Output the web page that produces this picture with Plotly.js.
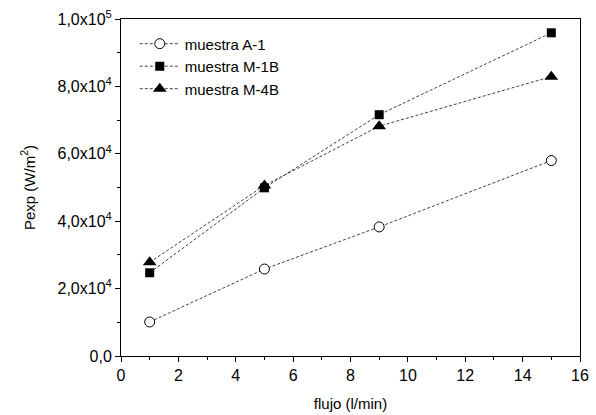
<!DOCTYPE html>
<html><head><meta charset="utf-8">
<script src="https://cdn.plot.ly/plotly-3.0.1.min.js"></script>
<style>body{margin:0;padding:0;background:#fff}#chart{width:596px;height:415px}</style>
</head><body><div id="chart"></div>
<script>
const flujo = [1, 5, 9, 15];
const seriesNames = ["muestra A-1", "muestra M-1B", "muestra M-4B"];
const valuesA1 = [10100, 25800, 38300, 58000];
const valuesM1B = [24700, 49900, 71600, 95900];
const valuesM4B = [27800, 50600, 68200, 82900];
const xTickVals = [0, 2, 4, 6, 8, 10, 12, 14, 16];
const yTickVals = [0, 20000, 40000, 60000, 80000, 100000];
const yTickText = ["0,0", "2,0x10<sup>4</sup>", "4,0x10<sup>4</sup>", "6,0x10<sup>4</sup>", "8,0x10<sup>4</sup>", "1,0x10<sup>5</sup>"];

const lineStyle = {color: '#444', width: 1, dash: '3px,2px'};
const traces = [
  {x: flujo, y: valuesA1, name: seriesNames[0], mode: 'lines+markers', line: lineStyle,
   marker: {symbol: 'circle', size: 10, color: '#fff', line: {color: '#000', width: 1}}},
  {x: flujo, y: valuesM1B, name: seriesNames[1], mode: 'lines+markers', line: lineStyle,
   marker: {symbol: 'square', size: 9, color: '#000', line: {color: '#000', width: 0}}},
  {x: flujo, y: valuesM4B, name: seriesNames[2], mode: 'lines+markers', line: lineStyle,
   marker: {symbol: 'triangle-up', size: 12, color: '#000', line: {color: '#000', width: 0}}}
];
const fam = 'Liberation Sans, Arial, sans-serif';
const layout = {
  width: 596, height: 415,
  margin: {l: 121, r: 16, t: 19, b: 59},
  paper_bgcolor: '#fff', plot_bgcolor: '#fff',
  font: {family: fam, size: 15, color: '#000'},
  showlegend: true,
  legend: {x: 0.03, y: 0.975, xanchor: 'left', yanchor: 'top', bgcolor: 'rgba(0,0,0,0)',
           font: {family: fam, size: 15, color: '#000'}, itemwidth: 40, tracegroupgap: 0},
  xaxis: {range: [0, 16], tickmode: 'array', tickvals: xTickVals,
          ticks: 'outside', ticklen: 5, tickwidth: 1, tickcolor: '#000',
          showline: true, linecolor: '#000', linewidth: 1, mirror: true, showgrid: false, zeroline: false,
          tickfont: {family: fam, size: 16, color: '#000'},
          minor: {tickmode: 'array', tickvals: [1,3,5,7,9,11,13,15], ticks: 'outside', ticklen: 3, tickcolor: '#000', tickwidth: 1},
          title: {text: 'flujo (l/min)', font: {family: fam, size: 15, color: '#000'}, standoff: 15}},
  yaxis: {range: [0, 100000], tickmode: 'array', tickvals: yTickVals, ticktext: yTickText,
          ticks: 'outside', ticklen: 5, tickwidth: 1, tickcolor: '#000',
          showline: true, linecolor: '#000', linewidth: 1, mirror: true, showgrid: false, zeroline: false,
          tickfont: {family: fam, size: 16, color: '#000'},
          minor: {tickmode: 'array', tickvals: [10000,30000,50000,70000,90000], ticks: 'outside', ticklen: 3, tickcolor: '#000', tickwidth: 1},
          title: {text: 'Pexp (W/m<sup>2</sup>)', font: {family: fam, size: 15, color: '#000'}, standoff: 18}}
};
Plotly.newPlot('chart', traces, layout, {displayModeBar: false, staticPlot: true});
</script></body></html>
